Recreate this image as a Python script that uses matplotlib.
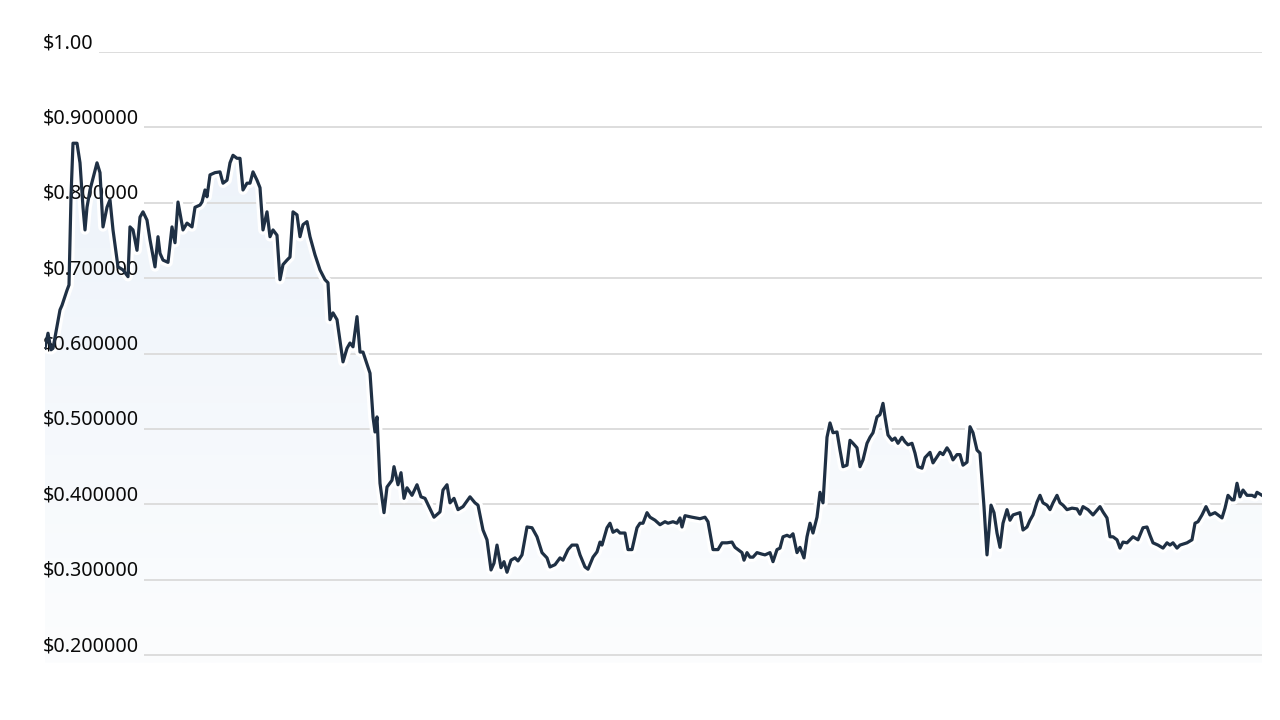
import numpy as np
import matplotlib
matplotlib.use("Agg")
import matplotlib.pyplot as plt
import matplotlib.transforms as mtransforms
from matplotlib.patches import Polygon

# prix (jour, prix en $)
jours = [0.0, 0.9, 1.8, 2.4, 4.5, 5.1, 6.6, 7.2, 7.8, 8.4, 9.6, 10.5, 11.4, 12.0, 12.6, 13.5,
         15.6, 16.5, 17.4, 18.6, 19.5, 20.4, 21.9, 23.4, 24.9, 25.5, 26.4, 27.6, 28.5, 29.4,
         30.6, 31.5, 33.0, 33.9, 34.5, 35.4, 36.9, 38.1, 39.0, 39.9, 41.4, 42.6, 44.1, 45.0,
         46.5, 47.1, 48.0, 48.6, 49.5, 51.0, 52.5, 53.4, 54.6, 55.5, 56.4, 57.6, 58.5, 59.4,
         60.6, 61.5, 62.4, 63.6, 64.5, 65.4, 66.6, 67.5, 68.4, 69.6, 70.5, 71.4, 72.6, 73.5,
         74.4, 75.6, 76.5, 77.4, 78.6, 79.5, 81.0, 82.5, 84.0, 84.9, 85.5, 86.4, 87.6, 89.4,
         90.6, 91.5, 92.4, 93.6, 94.5, 95.4, 97.5, 98.4, 99.0, 99.6, 100.5, 101.7, 102.6,
         104.1, 104.7, 105.9, 106.8, 107.7, 108.6, 110.1, 111.6, 112.8, 114.0, 115.2, 116.7,
         118.5, 119.4, 120.6, 121.5, 122.7, 123.9, 125.4, 127.5, 129.0, 129.9, 131.4, 132.6,
         133.8, 134.7, 135.6, 136.8, 137.7, 138.6, 139.8, 141.0, 141.9, 143.1, 144.6, 146.1,
         147.6, 149.1, 150.6, 151.5, 153.0, 154.5, 155.4, 156.9, 158.1, 159.6, 160.5, 162.0,
         162.9, 164.4, 165.6, 166.5, 167.1, 168.6, 169.5, 170.4, 171.6, 172.5, 174.0, 174.9,
         176.1, 177.6, 178.5, 179.4, 180.6, 181.5, 183.0, 184.5, 186.0, 186.9, 188.4, 189.6,
         190.5, 191.1, 192.0, 194.1, 196.5, 198.0, 198.9, 200.4, 201.9, 203.1, 204.6, 206.1,
         207.0, 207.9, 209.1, 209.7, 210.6, 211.5, 212.4, 213.6, 215.1, 216.0, 217.5, 218.4,
         219.6, 220.5, 221.4, 222.6, 223.5, 224.4, 225.6, 226.5, 227.7, 228.6, 229.5, 230.4,
         231.6, 232.5, 233.4, 234.6, 235.5, 236.4, 237.6, 238.5, 239.4, 240.6, 241.5, 242.4,
         243.6, 244.5, 245.4, 246.6, 247.5, 248.4, 249.6, 250.5, 251.4, 252.0, 252.9, 254.1,
         255.0, 255.9, 257.1, 258.0, 258.9, 260.1, 261.0, 261.9, 263.1, 264.0, 265.5, 266.4,
         267.6, 268.5, 269.4, 270.6, 271.5, 272.4, 273.6, 274.5, 275.4, 276.6, 277.5, 278.4,
         279.6, 280.5, 281.7, 282.6, 283.8, 284.7, 285.6, 286.5, 287.4, 288.6, 289.5, 290.4,
         292.5, 293.4, 294.6, 295.5, 296.4, 297.6, 298.5, 299.4, 300.6, 301.5, 302.4, 303.6,
         304.5, 305.4, 306.6, 308.1, 309.6, 310.5, 311.4, 312.9, 314.4, 316.5, 317.4, 318.6,
         319.5, 320.4, 321.6, 322.5, 323.4, 324.6, 326.4, 327.9, 329.4, 330.6, 331.5, 332.4,
         333.9, 335.4, 336.6, 337.5, 338.4, 339.6, 340.5, 342.6, 344.1, 345.0, 345.9, 347.1,
         348.3, 349.5, 351.0, 351.9, 353.1, 354.0, 354.9, 356.1, 356.7, 357.6, 358.5, 359.4,
         360.6, 362.1, 363.0, 363.6, 365.1]

prix = [0.607, 0.627, 0.605, 0.607, 0.658, 0.664, 0.684, 0.691, 0.808, 0.879, 0.879, 0.853,
        0.794, 0.764, 0.794, 0.817, 0.853, 0.840, 0.768, 0.794, 0.804, 0.764, 0.715, 0.711,
        0.702, 0.768, 0.764, 0.737, 0.781, 0.788, 0.777, 0.751, 0.715, 0.755, 0.733, 0.724,
        0.721, 0.768, 0.747, 0.801, 0.764, 0.773, 0.768, 0.794, 0.797, 0.801, 0.817, 0.808,
        0.837, 0.840, 0.841, 0.826, 0.830, 0.853, 0.863, 0.859, 0.859, 0.817, 0.826, 0.826,
        0.841, 0.830, 0.820, 0.764, 0.788, 0.755, 0.764, 0.757, 0.698, 0.718, 0.724, 0.728,
        0.788, 0.784, 0.755, 0.771, 0.775, 0.755, 0.731, 0.711, 0.698, 0.694, 0.645, 0.654,
        0.645, 0.589, 0.607, 0.614, 0.609, 0.649, 0.602, 0.602, 0.574, 0.516, 0.496, 0.516,
        0.428, 0.389, 0.423, 0.432, 0.450, 0.426, 0.442, 0.408, 0.422, 0.412, 0.426, 0.410,
        0.408, 0.397, 0.383, 0.390, 0.419, 0.426, 0.402, 0.408, 0.393, 0.397, 0.410, 0.402,
        0.399, 0.366, 0.353, 0.313, 0.322, 0.346, 0.316, 0.324, 0.310, 0.326, 0.329, 0.325,
        0.333, 0.370, 0.369, 0.357, 0.336, 0.329, 0.317, 0.320, 0.329, 0.326, 0.340, 0.346,
        0.346, 0.333, 0.317, 0.314, 0.330, 0.337, 0.350, 0.346, 0.369, 0.375, 0.363, 0.366,
        0.362, 0.362, 0.340, 0.340, 0.369, 0.375, 0.375, 0.389, 0.383, 0.379, 0.373, 0.377,
        0.375, 0.377, 0.375, 0.382, 0.370, 0.385, 0.383, 0.381, 0.383, 0.377, 0.340, 0.340,
        0.349, 0.349, 0.350, 0.343, 0.340, 0.336, 0.326, 0.336, 0.330, 0.330, 0.336, 0.334,
        0.333, 0.336, 0.324, 0.340, 0.342, 0.357, 0.359, 0.357, 0.361, 0.336, 0.343, 0.329,
        0.357, 0.375, 0.362, 0.383, 0.416, 0.402, 0.489, 0.508, 0.495, 0.496, 0.472, 0.450,
        0.452, 0.485, 0.481, 0.475, 0.450, 0.459, 0.481, 0.489, 0.495, 0.516, 0.519, 0.534,
        0.516, 0.492, 0.485, 0.488, 0.481, 0.489, 0.483, 0.479, 0.481, 0.468, 0.450, 0.448,
        0.462, 0.469, 0.455, 0.463, 0.469, 0.466, 0.475, 0.469, 0.459, 0.466, 0.466, 0.452,
        0.456, 0.503, 0.495, 0.472, 0.468, 0.397, 0.333, 0.399, 0.389, 0.362, 0.343, 0.375,
        0.393, 0.379, 0.386, 0.389, 0.366, 0.370, 0.379, 0.386, 0.403, 0.412, 0.402, 0.399,
        0.393, 0.402, 0.412, 0.402, 0.399, 0.393, 0.395, 0.394, 0.387, 0.397, 0.393, 0.386,
        0.397, 0.390, 0.382, 0.357, 0.357, 0.353, 0.342, 0.350, 0.349, 0.357, 0.353, 0.369,
        0.370, 0.359, 0.349, 0.346, 0.342, 0.349, 0.346, 0.349, 0.342, 0.346, 0.349, 0.353,
        0.375, 0.377, 0.386, 0.397, 0.386, 0.389, 0.386, 0.382, 0.395, 0.412, 0.406, 0.406,
        0.428, 0.410, 0.419, 0.412, 0.412, 0.410, 0.416, 0.412]

graduations = [0.2, 0.3, 0.4, 0.5, 0.6, 0.7, 0.8, 0.9, 1.0]
etiquettes = ["$0.200000", "$0.300000", "$0.400000", "$0.500000", "$0.600000",
              "$0.700000", "$0.800000", "$0.900000", "$1.00"]

x = np.array(jours)
y = np.array(prix)
y_bas = 0.19

fig = plt.figure(figsize=(12.8, 7.2), dpi=100)
ax = fig.add_axes([45/1280, (720-662.7)/720, 1217/1280, (662.7-52)/720])
ax.set_xlim(x[0], x[-1])
ax.set_ylim(y_bas, 1.0)
ax.axis("off")

# remplissage en degrade sous la courbe
grad = np.linspace(1, 0, 256).reshape(-1, 1)
cmap = matplotlib.colors.LinearSegmentedColormap.from_list("f", ["#fcfdfe", "#edf3fa"])
img = ax.imshow(grad, extent=[x[0], x[-1], y_bas, y.max()], origin="upper",
                aspect="auto", cmap=cmap, vmin=0, vmax=1, zorder=0.5)
poly = Polygon(np.column_stack([np.r_[x[0], x, x[-1]], np.r_[y_bas, y, y_bas]]),
               closed=True, transform=ax.transData, facecolor="none", edgecolor="none")
ax.add_patch(poly)
img.set_clip_path(poly)

# etiquettes puis lignes de grille qui commencent apres le texte
trans = mtransforms.offset_copy(ax.get_yaxis_transform(), fig=fig, x=-2, y=4, units="dots")
textes = []
for g, e in zip(graduations, etiquettes):
    t = ax.text(0, g, e, transform=trans, ha="left", va="baseline", fontsize=14.2,
                family=["Noto Sans", "DejaVu Sans"], color="#0a0a0a", zorder=3)
    textes.append(t)

fig.canvas.draw()
rend = fig.canvas.get_renderer()
inv = ax.transAxes.inverted()
for g, t in zip(graduations, textes):
    bb = t.get_window_extent(rend)
    x0 = inv.transform((bb.x1 + 5, 0))[0]
    ax.plot([x0, 1], [g, g], transform=ax.get_yaxis_transform(), color="#dddddd",
            linewidth=1.4, zorder=1, solid_capstyle="butt")

# halo blanc qui coupe la grille autour de la courbe
ax.plot(x, y, color="white", linewidth=7, zorder=2, solid_joinstyle="round")
ax.plot(x, y, color="#1f3044", linewidth=2.3, zorder=4, solid_joinstyle="round")

fig.savefig("out.png", dpi=100)
